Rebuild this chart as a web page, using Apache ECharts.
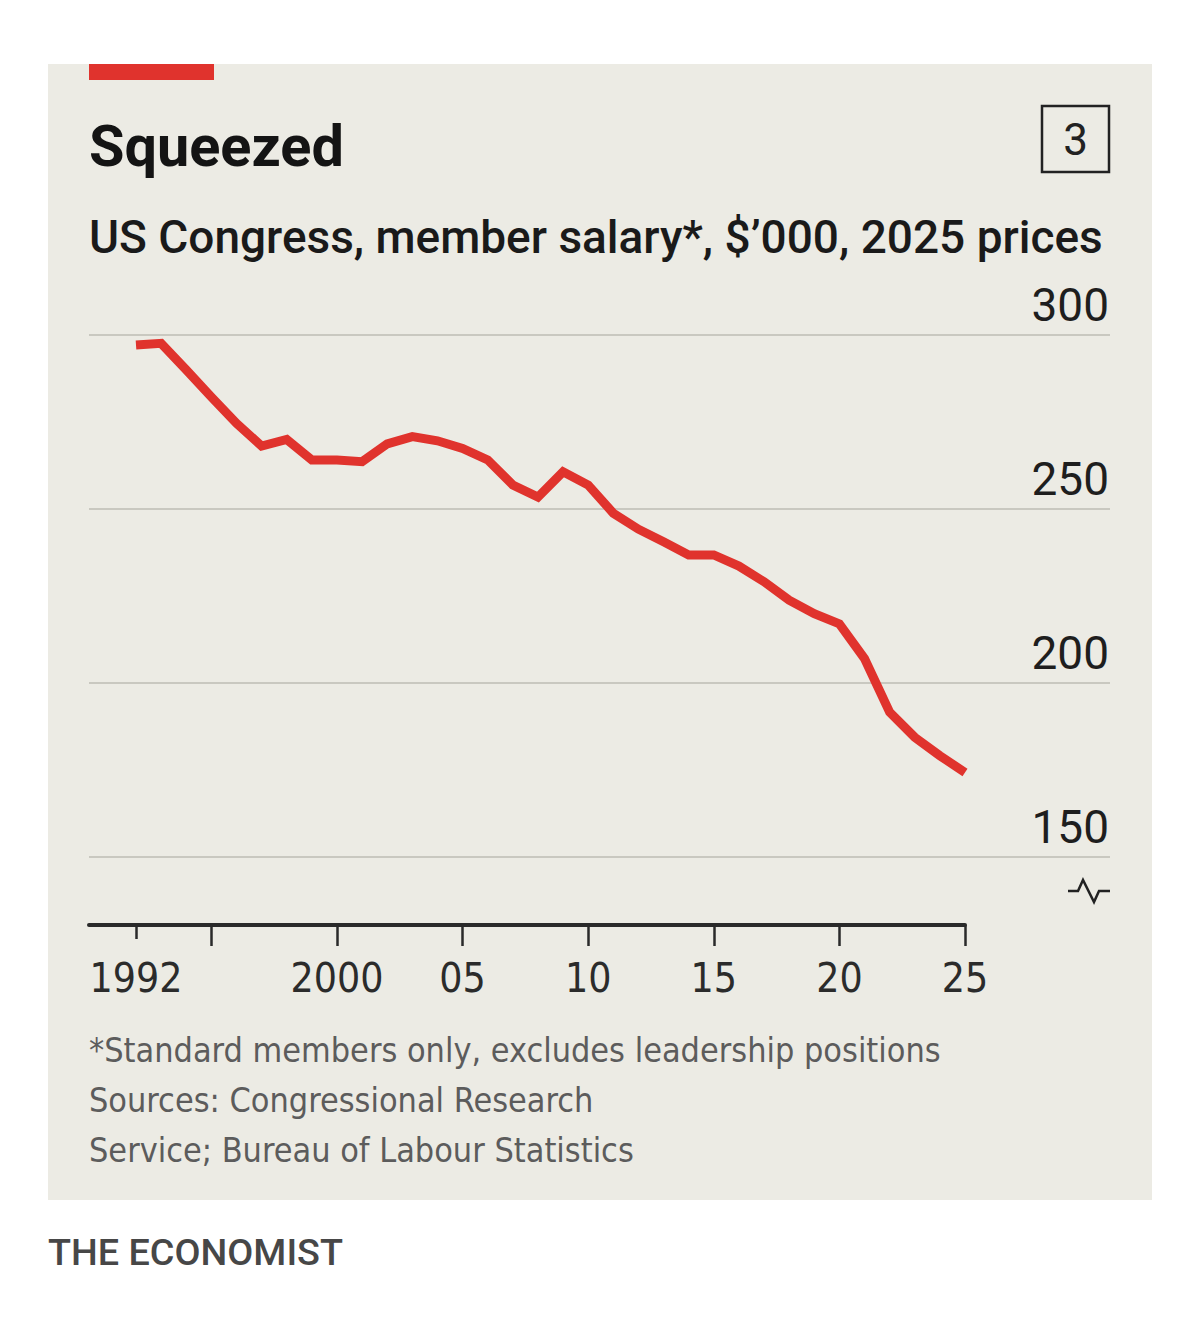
<!DOCTYPE html>
<html>
<head>
<meta charset="utf-8">
<script src="https://cdn.jsdelivr.net/npm/echarts@6/dist/echarts.min.js"></script>
<style>
html, body { margin: 0; background: #fff; }
#chart { width: 1200px; height: 1318px; }
</style>
</head>
<body>
<div id="chart"></div>
<script>
// data
var years = [1992, 1993, 1994, 1995, 1996, 1997, 1998, 1999, 2000, 2001, 2002, 2003,
             2004, 2005, 2006, 2007, 2008, 2009, 2010, 2011, 2012, 2013, 2014, 2015,
             2016, 2017, 2018, 2019, 2020, 2021, 2022, 2023, 2024, 2025];
var salary = [297.1, 297.6, 290.0, 282.2, 274.6, 268.1, 270.0, 264.1, 264.1, 263.6, 268.7, 270.8,
              269.6, 267.4, 264.1, 256.9, 253.4, 260.7, 256.9, 248.8, 244.2, 240.6, 236.8, 236.8,
              233.6, 229.1, 223.8, 219.9, 217.0, 207.0, 191.6, 184.4, 179.1, 174.3];
var xTickYears = [1995, 2000, 2005, 2010, 2015, 2020, 2025];
var xLabelYears = [1992, 2000, 2005, 2010, 2015, 2020, 2025];

var titleText = 'Squeezed';
var subtitleText = 'US Congress, member salary*, $\u2019000, 2025 prices';
var notes = [
    '*Standard members only, excludes leadership positions',
    'Sources: Congressional Research',
    'Service; Bureau of Labour Statistics'
];
var chartNumber = '3';
var brand = 'THE ECONOMIST';

var RED = '#e0332d';
var INK = '#1a1a1a';
var NARROW = "'Liberation Sans Narrow', 'DejaVu Sans Condensed', 'Arial Narrow', sans-serif";

// size text so that it spans a given width
var ctx = document.createElement('canvas').getContext('2d');
function fitSize(text, weight, family, width) {
    ctx.font = weight + ' 100px ' + family;
    return 100 * width / ctx.measureText(text).width;
}

// x scale: 1992 sits at 136px, 2025 at 965px, plot starts at 89px
var pxPerYear = (965 - 136) / (2025 - 1992);
var xMin = 1992 - (136 - 89) / pxPerYear;
var xMaxWide = xMin + (1110 - 89) / pxPerYear;

var titleSize = fitSize(titleText, 'bold', 'Roboto', 255);
var subSize = fitSize(subtitleText, '500', 'Roboto', 1014);
var noteSize = fitSize(notes[0], 'normal', NARROW, 852);
var brandSize = fitSize(brand, '500', 'Roboto', 295);
var xLabelSize = Math.min(48, fitSize('1992', 'normal', NARROW, 93));

function textAt(x, baseline, text, size, weight, family, color, align) {
    return {
        type: 'text',
        x: x,
        y: baseline - 0.345 * size,
        style: {
            text: text,
            fontSize: size,
            fontWeight: weight,
            fontFamily: family,
            fill: color,
            align: align || 'left',
            verticalAlign: 'middle'
        }
    };
}

var graphics = [
    { type: 'rect', z: -10, shape: { x: 48, y: 64, width: 1104, height: 1136 }, style: { fill: '#ecebe4' } },
    { type: 'rect', shape: { x: 89, y: 64, width: 125, height: 16 }, style: { fill: RED } },
    textAt(89, 166, titleText, titleSize, 'bold', 'Roboto', '#141414'),
    textAt(89, 253, subtitleText, subSize, '500', 'Roboto', INK),
    { type: 'rect', shape: { x: 1042, y: 106, width: 67, height: 66 },
      style: { fill: 'none', stroke: '#222', lineWidth: 2.5 } },
    textAt(1075.5, 155, chartNumber, 44, 'normal', 'Roboto', '#222', 'center'),
    { type: 'polyline', shape: { points: [[1068, 891], [1078, 891], [1083, 880], [1094, 902], [1099, 891], [1110, 891]] },
      style: { fill: 'none', stroke: '#222', lineWidth: 2.5 } },
    textAt(48, 1265, brand, brandSize, '500', 'Roboto', '#474747')
];
notes.forEach(function (line, i) {
    graphics.push(textAt(89, 1062 + i * 50, line, noteSize, 'normal', NARROW, '#5c5c5c'));
});

var chart = echarts.init(document.getElementById('chart'), null, { renderer: 'svg' });

var option = {
    backgroundColor: '#fff',
    animation: false,
    graphic: graphics,
    grid: [
        { left: 89, right: 90, top: 335, bottom: 461 },
        { left: 89, width: 876, top: 335, bottom: 393 },
        { left: 89, width: 876, top: 335, bottom: 393 }
    ],
    xAxis: [
        { gridIndex: 0, type: 'value', min: xMin, max: xMaxWide, show: false },
        {
            gridIndex: 1, type: 'value', min: xMin, max: 2025,
            splitLine: { show: false },
            axisLine: { lineStyle: { color: '#2a2a2a', width: 4 } },
            axisTick: { customValues: xTickYears, length: 21, lineStyle: { color: '#2a2a2a', width: 2.5 } },
            axisLabel: {
                customValues: xLabelYears,
                margin: 29,
                lineHeight: 48,
                fontSize: xLabelSize,
                fontFamily: NARROW,
                color: '#2b2b2b',
                formatter: function (v) {
                    return (v === 1992 || v === 2000) ? String(v) : String(v).slice(2);
                }
            }
        },
        {
            gridIndex: 2, type: 'value', min: xMin, max: 2025,
            splitLine: { show: false },
            axisLine: { show: false },
            axisTick: { customValues: [1992], length: 14, lineStyle: { color: '#2a2a2a', width: 2.5 } },
            axisLabel: { show: false }
        }
    ],
    yAxis: [
        {
            gridIndex: 0, type: 'value', min: 150, max: 300, interval: 50,
            position: 'right',
            axisLine: { show: false },
            axisTick: { show: false },
            splitLine: { lineStyle: { color: '#c9c8c0', width: 2 } },
            axisLabel: {
                inside: true,
                margin: 1,
                verticalAlign: 'bottom',
                lineHeight: 60,
                fontSize: 46,
                fontFamily: 'Roboto',
                color: '#1e1e1e'
            }
        },
        { gridIndex: 1, type: 'value', show: false, min: 0, max: 1 },
        { gridIndex: 2, type: 'value', show: false, min: 0, max: 1 }
    ],
    series: [
        {
            type: 'line',
            xAxisIndex: 0,
            yAxisIndex: 0,
            data: years.map(function (y, i) { return [y, salary[i]]; }),
            symbol: 'none',
            silent: true,
            lineStyle: { color: RED, width: 9, join: 'miter', cap: 'butt' }
        }
    ]
};

chart.setOption(option);
</script>
</body>
</html>
